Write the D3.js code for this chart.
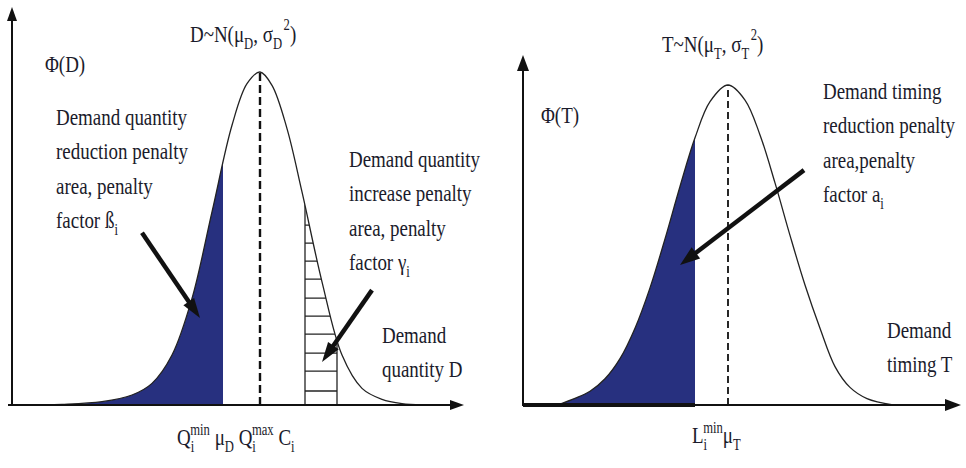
<!DOCTYPE html>
<html>
<head>
<meta charset="utf-8">
<script src="https://cdn.jsdelivr.net/npm/d3@7"></script>
<style>
  body { margin: 0; background: #fff; }
  text { font-family: "Liberation Serif", "Times New Roman", serif; fill: #1b1b2b; }
</style>
</head>
<body>
<script>
// demand quantity density
var demandX   = [0.8, 5, 9, 12, 14, 16, 18, 20, 22, 23.5, 24.8, 26, 27.5, 29, 31, 33, 35, 37, 39, 41];
var demandPhi = [0, 0.002, 0.01, 0.03, 0.065, 0.15, 0.32, 0.58, 0.84, 0.965, 1, 0.96, 0.83, 0.64, 0.37, 0.15, 0.05, 0.017, 0.004, 0];
// demand timing density
var timingX   = [3.4, 5.2, 6.7, 8.2, 9.7, 11.2, 12.7, 14.2, 15.7, 17.2, 18.7, 20.5, 22.2, 23.7, 25.2, 26.7, 28.2, 29.7, 31.2, 32.7, 34.4, 37];
var timingPhi = [0, 0.021, 0.043, 0.082, 0.145, 0.24, 0.366, 0.519, 0.683, 0.835, 0.948, 1, 0.953, 0.844, 0.694, 0.53, 0.375, 0.24, 0.12, 0.055, 0.02, 0];

// markers on the axes
var qMin = 21.1, muD = 24.8, qMax = 29.3, cI = 32.5;
var lMin = 17.2, muT = 20.5;
// hatch levels in the increase-penalty area
var hatchLevels = [0.54, 0.486, 0.432, 0.378, 0.321, 0.267, 0.213, 0.156, 0.102, 0.042];

// annotation arrows [x1, y1, x2, y2] in data units
var arrowBeta  = [13.0, 0.517, 18.8, 0.261];
var arrowGamma = [36.0, 0.345, 31.0, 0.129];
var arrowAlpha = [28.1, 0.734, 15.7, 0.4375];

var W = 966, H = 468;
var blue = "#27307f";
var sx = 0.79, fs = 24, smallFs = 16, lineH = 34.5;

var svg = d3.select("body").append("svg")
    .attr("width", W)
    .attr("height", H);

svg.append("rect").attr("width", W).attr("height", H).attr("fill", "#fff");

var defs = svg.append("defs");

// ---------- text helper ----------
// segments: "plain", ["x","sub"], ["x","sup"], ["x","supOver"] (stacked over the previous subscript)
function label(x, y, lines) {
    var g = svg.append("g").attr("transform", "translate(" + x + "," + y + ") scale(" + sx + ",1)");
    lines.forEach(function(segs, i) {
        var t = g.append("text").attr("y", i * lineH).attr("font-size", fs);
        var cur = 0;
        segs.forEach(function(s) {
            var txt = typeof s === "string" ? s : s[0];
            var kind = typeof s === "string" ? "" : s[1];
            var target = kind === "sub" ? 7 : (kind === "sup" || kind === "supOver") ? -10 : 0;
            var ts = t.append("tspan").attr("dy", target - cur).text(txt);
            if (kind) ts.attr("font-size", smallFs);
            if (kind === "supOver") ts.attr("dx", -5);
            if (kind === "sup") ts.attr("dy", target - cur - 2).attr("dx", 2);
            cur = kind === "sup" ? target - 2 : target;
        });
    });
}

function arrowHead(g, x1, y1, x2, y2, len, half) {
    var a = Math.atan2(y2 - y1, x2 - x1);
    var bx = x2 - len * Math.cos(a), by = y2 - len * Math.sin(a);
    var px = -Math.sin(a) * half, py = Math.cos(a) * half;
    g.append("line")
        .attr("x1", x1).attr("y1", y1).attr("x2", bx + 2 * Math.cos(a)).attr("y2", by + 2 * Math.sin(a))
        .attr("stroke", "#111").attr("stroke-width", 4.5);
    g.append("path")
        .attr("d", "M" + x2 + "," + y2 + "L" + (bx + px) + "," + (by + py) + "L" + (bx - px) + "," + (by - py) + "Z")
        .attr("fill", "#111");
}

function axisArrows(g, x0, yTop, xRight, yBase, headLen, headHalf) {
    g.append("line").attr("x1", x0).attr("y1", yBase + 1).attr("x2", x0).attr("y2", yTop + headLen)
        .attr("stroke", "#111").attr("stroke-width", 2);
    g.append("path").attr("d", "M" + x0 + "," + yTop + "L" + (x0 - headHalf) + "," + (yTop + headLen) + "L" + (x0 + headHalf) + "," + (yTop + headLen) + "Z")
        .attr("fill", "#111");
    g.append("path").attr("d", "M" + xRight + "," + yBase + "L" + (xRight - headLen) + "," + (yBase - headHalf) + "L" + (xRight - headLen) + "," + (yBase + headHalf) + "Z")
        .attr("fill", "#111");
}

var smooth = d3.curveCatmullRom.alpha(0.5);

// ================= LEFT PANEL =================
var xL = d3.scaleLinear().domain([0, 45]).range([12, 462]);
var yL = d3.scaleLinear().domain([0, 1]).range([405, 72]);
var dataL = demandX.map(function(d, i) { return {x: d, y: demandPhi[i]}; });

var lineL = d3.line().x(function(d) { return xL(d.x); }).y(function(d) { return yL(d.y); }).curve(smooth);
var areaL = d3.area().x(function(d) { return xL(d.x); }).y0(yL(0)).y1(function(d) { return yL(d.y); }).curve(smooth);

defs.append("clipPath").attr("id", "clipQmin")
    .append("rect").attr("x", 0).attr("y", 0).attr("width", xL(qMin)).attr("height", H);
defs.append("clipPath").attr("id", "clipUnderL")
    .append("path").attr("d", areaL(dataL));

var gL = svg.append("g");

gL.append("path").attr("d", areaL(dataL)).attr("fill", blue).attr("clip-path", "url(#clipQmin)");

// hatched increase-penalty area
var hatch = gL.append("g").attr("clip-path", "url(#clipUnderL)");
hatch.selectAll("line.h").data(hatchLevels).enter().append("line")
    .attr("x1", xL(qMax)).attr("x2", xL(cI))
    .attr("y1", function(d) { return yL(d); }).attr("y2", function(d) { return yL(d); })
    .attr("stroke", "#222").attr("stroke-width", 1.3);
hatch.selectAll("line.v").data([qMax, cI]).enter().append("line")
    .attr("x1", function(d) { return xL(d); }).attr("x2", function(d) { return xL(d); })
    .attr("y1", yL(0)).attr("y2", yL(1))
    .attr("stroke", "#222").attr("stroke-width", 1.3);

gL.append("line").attr("x1", xL(muD)).attr("x2", xL(muD)).attr("y1", yL(0)).attr("y2", yL(1))
    .attr("stroke", "#111").attr("stroke-width", 2.4).attr("stroke-dasharray", "8,4");

gL.append("path").attr("d", lineL(dataL)).attr("fill", "none").attr("stroke", "#222").attr("stroke-width", 1.3);

gL.append("line").attr("x1", 8).attr("x2", 452).attr("y1", yL(0)).attr("y2", yL(0))
    .attr("stroke", "#111").attr("stroke-width", 2.2);
axisArrows(gL, 12, 7, 464, yL(0), 14, 5);

arrowHead(gL, xL(arrowBeta[0]), yL(arrowBeta[1]), xL(arrowBeta[2]), yL(arrowBeta[3]), 20, 6.5);
arrowHead(gL, xL(arrowGamma[0]), yL(arrowGamma[1]), xL(arrowGamma[2]), yL(arrowGamma[3]), 20, 6.5);

label(190, 42, [["D~N(\u03bc", ["D", "sub"], ", \u03c3", ["D", "sub"], ["2", "sup"], ")"]]);
label(45, 72, [["\u03a6(D)"]]);
label(56, 125, [["Demand quantity"], ["reduction penalty"], ["area, penalty"], ["factor \u00df", ["i", "sub"]]]);
label(349, 167, [["Demand quantity"], ["increase penalty"], ["area, penalty"], ["factor \u03b3", ["i", "sub"]]]);
label(382, 343, [["Demand"], ["quantity D"]]);
label(177, 445, [["Q", ["i", "sub"], ["min", "supOver"], "  \u03bc", ["D", "sub"], " Q", ["i", "sub"], ["max", "supOver"], " C", ["i", "sub"]]]);

// ================= RIGHT PANEL =================
var xR = d3.scaleLinear().domain([0, 44]).range([523, 963]);
var yR = d3.scaleLinear().domain([0, 1]).range([405, 85]);
var dataR = timingX.map(function(d, i) { return {x: d, y: timingPhi[i]}; });

var lineR = d3.line().x(function(d) { return xR(d.x); }).y(function(d) { return yR(d.y); }).curve(smooth);
var areaR = d3.area().x(function(d) { return xR(d.x); }).y0(yR(0)).y1(function(d) { return yR(d.y); }).curve(smooth);

defs.append("clipPath").attr("id", "clipLmin")
    .append("rect").attr("x", 0).attr("y", 0).attr("width", xR(lMin)).attr("height", H);

var gR = svg.append("g");

gR.append("path").attr("d", areaR(dataR)).attr("fill", blue).attr("clip-path", "url(#clipLmin)");

gR.append("line").attr("x1", xR(muT)).attr("x2", xR(muT)).attr("y1", yR(0)).attr("y2", yR(1))
    .attr("stroke", "#111").attr("stroke-width", 1.8).attr("stroke-dasharray", "7,4");

gR.append("path").attr("d", lineR(dataR)).attr("fill", "none").attr("stroke", "#222").attr("stroke-width", 1.3);

gR.append("line").attr("x1", 523).attr("x2", 950).attr("y1", yR(0)).attr("y2", yR(0))
    .attr("stroke", "#111").attr("stroke-width", 2);
gR.append("line").attr("x1", 523).attr("x2", xR(lMin)).attr("y1", yR(0)).attr("y2", yR(0))
    .attr("stroke", "#111").attr("stroke-width", 4);
axisArrows(gR, 523, 55, 961, yR(0), 16, 6);

arrowHead(gR, xR(arrowAlpha[0]), yR(arrowAlpha[1]), xR(arrowAlpha[2]), yR(arrowAlpha[3]), 20, 7);

label(662, 52, [["T~N(\u03bc", ["T", "sub"], ", \u03c3", ["T", "sub"], ["2", "sup"], ")"]]);
label(541, 123, [["\u03a6(T)"]]);
label(823, 99, [["Demand timing"], ["reduction penalty"], ["area,penalty"], ["factor a", ["i", "sub"]]]);
label(887, 338, [["Demand"], ["timing T"]]);
label(692, 443, [["L", ["i", "sub"], ["min", "supOver"], "\u03bc", ["T", "sub"]]]);
</script>
</body>
</html>
